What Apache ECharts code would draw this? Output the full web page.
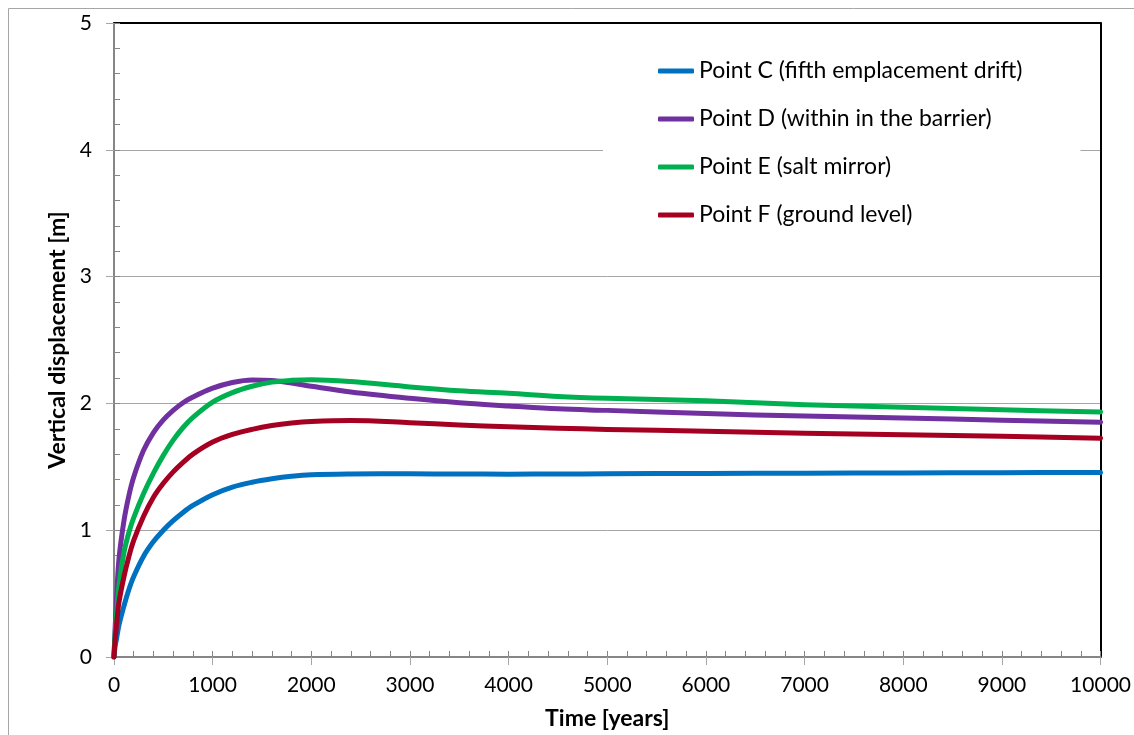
<!DOCTYPE html>
<html>
<head>
<meta charset="utf-8">
<script src="https://cdn.jsdelivr.net/npm/echarts@6/dist/echarts.min.js"></script>
<style>
html,body{margin:0;padding:0;background:#fff;overflow:hidden;}
#chart{width:1134px;height:735px;}
</style>
</head>
<body>
<div id="chart"></div>
<script>
// ---- data ----
const timeYears = [0,10,25,50,100,150,200,300,400,500,600,700,800,1000,1200,1400,1600,1800,2000,2400,3000,3500,4000,4500,5000,6000,7000,8000,9000,10000];
const pointC = [0,0.08,0.14,0.25,0.40,0.53,0.635,0.795,0.91,1.0,1.075,1.14,1.195,1.28,1.34,1.378,1.405,1.425,1.437,1.443,1.445,1.443,1.442,1.443,1.445,1.448,1.45,1.452,1.454,1.455];
const pointD = [0,0.2,0.45,0.77,1.07,1.27,1.42,1.63,1.77,1.87,1.945,2.005,2.05,2.12,2.165,2.185,2.18,2.16,2.135,2.09,2.04,2.005,1.98,1.957,1.945,1.92,1.90,1.885,1.868,1.852];
const pointE = [0,0.16,0.33,0.56,0.82,0.98,1.10,1.29,1.45,1.59,1.71,1.81,1.89,2.01,2.085,2.135,2.168,2.182,2.187,2.172,2.13,2.10,2.08,2.055,2.04,2.02,1.99,1.97,1.95,1.932];
const pointF = [0,0.12,0.25,0.43,0.63,0.79,0.92,1.11,1.26,1.37,1.46,1.535,1.60,1.695,1.755,1.795,1.825,1.845,1.857,1.865,1.848,1.83,1.815,1.805,1.795,1.78,1.765,1.752,1.74,1.725];
const seriesNames = ['Point C (fifth emplacement drift)','Point D (within in the barrier)','Point E (salt mirror)','Point F (ground level)'];
const seriesColors = ['#0070C0','#7030A0','#00B050','#A50021'];
const xAxisTitle = 'Time [years]';
const yAxisTitle = 'Vertical displacement [m]';

const allValues = [pointC, pointD, pointE, pointF];
const FONT = 'Lato';
const chart = echarts.init(document.getElementById('chart'), null, {renderer:'canvas'});

const series = allValues.map((vals, i) => ({
  name: seriesNames[i],
  type: 'line',
  xAxisIndex: 0, yAxisIndex: 0,
  data: timeYears.map((t, k) => [t, vals[k]]),
  showSymbol: false,
  smooth: 0.35,
  lineStyle: {width: 5, color: seriesColors[i], cap: 'round', join: 'round'},
  itemStyle: {color: seriesColors[i]},
  z: 5
}));

const plain = v => String(v);

const option = {
  animation: false,
  backgroundColor: '#fff',
  textStyle: {fontFamily: FONT},
  graphic: [{
    type: 'rect', silent: true, z: -10,
    shape: {x: 8.5, y: 8.5, width: 1300, height: 900},
    style: {fill: 'none', stroke: '#a6a6a6', lineWidth: 1}
  }],
  grid: {left: 114, right: 33, top: 23, bottom: 75, containLabel: false},
  legend: {
    orient: 'vertical', left: 603, top: 44,
    padding: [14, 58, 14, 55],
    backgroundColor: '#ffffff',
    itemWidth: 36, itemHeight: 5, itemGap: 22,
    icon: 'roundRect',
    align: 'left',
    textStyle: {fontFamily: FONT, fontSize: 23, color: '#000', lineHeight: 26},
    data: seriesNames,
    z: 10
  },
  xAxis: [{
    type: 'value', min: 0, max: 10000, interval: 1000,
    position: 'bottom',
    name: xAxisTitle, nameLocation: 'middle', nameGap: 50,
    nameTextStyle: {fontFamily: FONT, fontSize: 23, fontWeight: 'bold', color: '#000'},
    axisLine: {show: true, lineStyle: {color: '#868686', width: 2}},
    axisTick: {show: true, inside: true, length: 6, lineStyle: {color: '#868686', width: 1}},
    minorTick: {show: true, splitNumber: 5, length: 6, lineStyle: {color: '#868686', width: 1}},
    axisLabel: {fontFamily: FONT, fontSize: 21, color: '#000', margin: 18, formatter: plain},
    splitLine: {show: false}
  }, {
    type: 'value', min: 0, max: 10000, interval: 1000,
    position: 'bottom',
    axisLine: {show: false},
    axisTick: {show: true, inside: false, length: 8, lineStyle: {color: '#a6a6a6', width: 1}},
    axisLabel: {show: false},
    splitLine: {show: false}
  }, {
    type: 'value', min: 0, max: 10000,
    position: 'top',
    axisLine: {show: true, onZero: false, lineStyle: {color: '#000', width: 2}},
    axisTick: {show: false}, axisLabel: {show: false}, splitLine: {show: false}
  }],
  yAxis: [{
    type: 'value', min: 0, max: 5, interval: 1,
    position: 'left',
    name: yAxisTitle, nameLocation: 'middle', nameGap: 43,
    nameTextStyle: {fontFamily: FONT, fontSize: 23, fontWeight: 'bold', color: '#000'},
    axisLine: {show: true, onZero: false, lineStyle: {color: '#868686', width: 2}},
    axisTick: {show: true, inside: true, length: 6, lineStyle: {color: '#868686', width: 1}},
    minorTick: {show: true, splitNumber: 5, length: 6, lineStyle: {color: '#868686', width: 1}},
    axisLabel: {fontFamily: FONT, fontSize: 21, color: '#000', margin: 22, formatter: plain},
    splitLine: {show: true, lineStyle: {color: '#a6a6a6', width: 1}}
  }, {
    type: 'value', min: 0, max: 5, interval: 1,
    position: 'left',
    axisLine: {show: false},
    axisTick: {show: true, inside: false, length: 8, lineStyle: {color: '#a6a6a6', width: 1}},
    axisLabel: {show: false},
    splitLine: {show: false}
  }, {
    type: 'value', min: 0, max: 5,
    position: 'right',
    axisLine: {show: true, onZero: false, lineStyle: {color: '#000', width: 2}},
    axisTick: {show: false}, axisLabel: {show: false}, splitLine: {show: false}
  }],
  series: series
};
chart.setOption(option);
</script>
</body>
</html>
